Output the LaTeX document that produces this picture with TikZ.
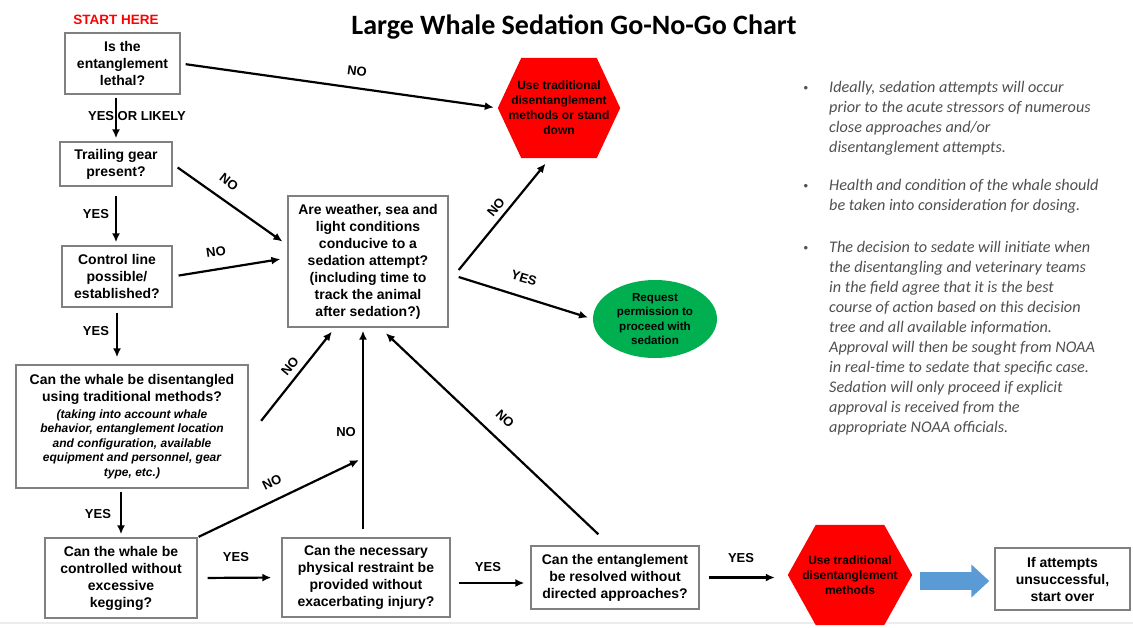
\documentclass[tikz,border=0pt]{standalone}
\usepackage{fontspec}
\setmainfont{Liberation Sans}
\newfontfamily\calibri{Carlito}
\usetikzlibrary{arrows.meta,shapes.geometric,calc,backgrounds}

\definecolor{boxline}{RGB}{128,128,128}
\definecolor{stopred}{RGB}{255,0,0}
\definecolor{gogreen}{RGB}{0,176,80}
\definecolor{flowblue}{RGB}{91,155,213}
\definecolor{notegray}{RGB}{80,80,80}
\definecolor{rulegray}{RGB}{236,236,236}

\newcommand\smallit[1]{{\itshape\fontsize{12}{17}\selectfont #1}}

\tikzset{
  qbox/.style={draw=boxline, line width=1.4pt, fill=white, inner sep=0pt,
    align=center, font=\bfseries\fontsize{14}{17}\selectfont},
  hexnode/.style={inner sep=0pt, align=center,
    font=\bfseries\fontsize{12}{15}\selectfont},
  lbl/.style={font=\bfseries\fontsize{13}{15}\selectfont, inner sep=0pt},
  arr/.style={line width=2.2pt, -{Latex[length=9pt,width=8pt]}},
  blockarrow/.style={flowblue, line width=18pt, -{Triangle[length=18pt,width=32pt]}},
  note/.style={anchor=north west, inner sep=0pt, align=left, text=notegray,
    font=\calibri\itshape\fontsize{16.2}{20}\selectfont},
  bullet/.style={anchor=base, inner sep=0pt, text=notegray,
    font=\fontsize{13}{13}\selectfont},
}

\begin{document}
\begin{tikzpicture}[x=1pt,y=-1pt]
\useasboundingbox (0,0) rectangle (1133,627);

% headings
\node[font=\calibri\bfseries\fontsize{28}{32}\selectfont, anchor=base] (title) at (574,34) {Large Whale Sedation Go-No-Go Chart};
\node[font=\bfseries\fontsize{13.5}{16}\selectfont, text=stopred, anchor=base] (start) at (116,24.5) {START HERE};

% question boxes
\node[qbox, minimum width=115pt, minimum height=61pt] (lethal) at (122.5,63.5) {Is the\\entanglement\\lethal?};
\node[qbox, minimum width=112pt, minimum height=44pt] (trailing) at (116,164) {Trailing gear\\present?};
\node[qbox, minimum width=110pt, minimum height=61pt] (control) at (117,276.5) {Control line\\possible/\\established?};
\node[qbox, minimum width=232pt, minimum height=123pt] (traditional) at (132,426.5)
  {Can the whale be disentangled\\using traditional methods?\\
   \smallit{(taking into account whale}\\[-2.4pt]
   \smallit{behavior, entanglement location}\\[-2.4pt]
   \smallit{and configuration, available}\\[-2.4pt]
   \smallit{equipment and personnel, gear}\\[-2.4pt]
   \smallit{type, etc.)}};
\node[qbox, minimum width=152pt, minimum height=80pt] (kegging) at (121,578) {Can the whale be\\controlled without\\excessive\\kegging?};
\node[qbox, minimum width=168pt, minimum height=79pt] (restraint) at (366,577.5) {Can the necessary\\physical restraint be\\provided without\\exacerbating injury?};
\node[qbox, minimum width=168pt, minimum height=63pt] (approach) at (615,577.5) {Can the entanglement\\be resolved without\\directed approaches?};
\node[qbox, minimum width=160pt, minimum height=131pt] (weather) at (368,261.5) {Are weather, sea and\\light conditions\\conducive to a\\sedation attempt?\\(including time to\\track the animal\\after sedation?)};
\node[qbox, minimum width=135pt, minimum height=62pt] (restart) at (1062.5,579) {If attempts\\unsuccessful,\\start over};

% outcomes
\node[hexnode, minimum width=122pt, minimum height=100pt] (standdown) at (559,108) {Use traditional\\disentanglement\\methods or stand\\down};
\node[hexnode, minimum width=124pt, minimum height=100pt] (tradmethods) at (850,575) {Use traditional\\disentanglement\\methods};
\node[ellipse, fill=gogreen, inner sep=0pt, minimum width=124pt, minimum height=78pt, align=center,
  font=\bfseries\fontsize{11.6}{14.5}\selectfont] (permission) at (655,319) {Request\\permission to\\proceed with\\sedation};

% red hexagon backgrounds
\begin{scope}[on background layer]
  \fill[white] (0,0) rectangle (1133,627);
  \draw[rulegray, line width=1.5pt] (0,623) -- (1133,623);
  \fill[stopred] (standdown.west) -- ([xshift=23.5pt]standdown.north west) -- ([xshift=-23.5pt]standdown.north east)
    -- (standdown.east) -- ([xshift=-23.5pt]standdown.south east) -- ([xshift=23.5pt]standdown.south west) -- cycle;
  \fill[stopred] (tradmethods.west) -- ([xshift=28pt]tradmethods.north west) -- ([xshift=-28pt]tradmethods.north east)
    -- (tradmethods.east) -- ([xshift=-28pt]tradmethods.south east) -- ([xshift=28pt]tradmethods.south west) -- cycle;
\end{scope}

% connectors
\coordinate (merge) at (359,460);
\draw[arr, shorten <=5pt, shorten >=4pt] (lethal.east) -- (standdown.west);
\draw[arr, shorten <=3pt, shorten >=3pt] (lethal.south -| trailing.north) -- (trailing.north);
\draw[arr, shorten <=6pt, shorten >=6pt] (trailing.east) -- ($(weather.west)+(0,-16.5)$);
\draw[arr, shorten <=9pt, shorten >=3pt] (trailing.south) -- (trailing.south |- control.north);
\draw[arr, shorten <=6pt, shorten >=7pt] (control.east) -- ($(weather.west)+(0,-3.5)$);
\draw[arr, shorten <=5pt, shorten >=7pt] (control.south) -- (control.south |- traditional.north);
\draw[arr, shorten <=20pt, shorten >=5pt] ($(traditional.east)+(0,10)$) -- ($(weather.south)+(-33,0)$);
\draw[arr, shorten <=3pt, shorten >=3pt] (traditional.south -| kegging.north) -- (kegging.north);
\draw[arr, shorten <=1pt] (kegging.north east) -- (merge);
\draw[arr, shorten <=8pt, shorten >=3pt] ([xshift=-3pt]restraint.north) -- ([xshift=-3pt]restraint.north |- weather.south);
\draw[arr, shorten <=16pt, shorten >=8pt] ($(approach.north)+(-5,0)$) -- ($(weather.south)+(12,0)$);
\draw[arr, shorten <=10pt, shorten >=10pt] (kegging.east) -- (restraint.west);
\draw[arr, shorten <=8pt, shorten >=6pt] ($(restraint.east)+(0,5.5)$) -- ($(approach.west)+(0,5.5)$);
\draw[arr, shorten <=9pt, shorten >=13pt] (approach.east) -- (approach.east -| tradmethods.west);
\draw[arr, shorten >=7pt] ($(weather.east)+(10,8.5)$) -- ($(standdown.south)+(-9,0)$);
\draw[arr, shorten >=5pt] ($(weather.east)+(10,15.5)$) -- (permission.west);
\draw[blockarrow] ($(tradmethods.east)+(8,6)$) -- ($(restart.west)+(-5,2)$);

% connector labels
\node[lbl] (l1) at (137,116) {YES OR LIKELY};
\node[lbl, rotate=-7] (l2) at (357,71) {NO};
\node[lbl, rotate=-38] (l3) at (229,182) {NO};
\node[lbl] (l4) at (96,214) {YES};
\node[lbl, rotate=8] (l5) at (216,252) {NO};
\node[lbl] (l6) at (96,331) {YES};
\node[lbl, rotate=50] (l7) at (290,366) {NO};
\node[lbl] (l8) at (98,514) {YES};
\node[lbl, rotate=26] (l9) at (272,482) {NO};
\node[lbl] (l10) at (346,432) {NO};
\node[lbl, rotate=-44] (l11) at (505,419) {NO};
\node[lbl] (l12) at (236,557) {YES};
\node[lbl] (l13) at (488,567) {YES};
\node[lbl] (l14) at (741,558) {YES};
\node[lbl, rotate=50] (l15) at (496,207) {NO};
\node[lbl, rotate=-16] (l16) at (524,278) {YES};

% notes
\node[bullet] (b1) at (806,92) {•};
\node[note] (n1) at (829,78) {\rule{0pt}{14pt}Ideally, sedation attempts will occur\\prior to the acute stressors of numerous\\close approaches and/or\\disentanglement attempts.};
\node[bullet] (b2) at (806,190) {•};
\node[note] (n2) at (829,176) {\rule{0pt}{14pt}Health and condition of the whale should\\be taken into consideration for dosing.};
\node[bullet] (b3) at (806,252) {•};
\node[note] (n3) at (829,238) {\rule{0pt}{14pt}The decision to sedate will initiate when\\the disentangling and veterinary teams\\in the field agree that it is the best\\course of action based on this decision\\tree and all available information.\\Approval will then be sought from NOAA\\in real-time to sedate that specific case.\\Sedation will only proceed if explicit\\approval is received from the\\appropriate NOAA officials.};
\end{tikzpicture}
\end{document}
